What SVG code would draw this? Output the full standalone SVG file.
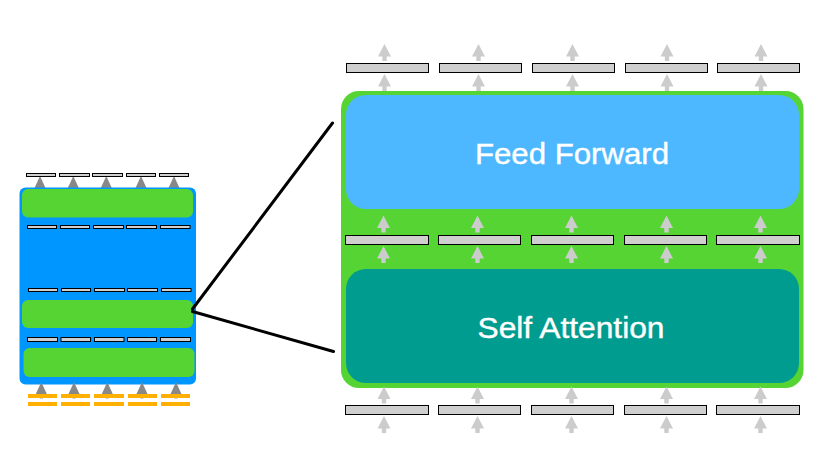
<svg xmlns="http://www.w3.org/2000/svg" xmlns:xlink="http://www.w3.org/1999/xlink" width="835" height="465" viewBox="0 0 835 465">
<defs>
<style>
.bar{fill:#cfcfcf;stroke:#000;stroke-width:1}
.sbar{fill:#cfcfcf;stroke:#000;stroke-width:1}
.ybar{fill:#ffb000}
.grn{fill:#55d433}
.lbl{font-family:"Helvetica Neue","Liberation Sans",Arial,sans-serif;font-size:30px;fill:#fff;stroke:#fff;stroke-width:0.4;text-anchor:middle}
.conn{stroke:#000;stroke-width:3;fill:none;stroke-linecap:round}
.arr{fill:#cccccc}
.darr{fill:#888888}
</style>
<path id="arrow" d="M0,0 L6.5,12.5 L2.2,12.5 L2.2,17 L-2.2,17 L-2.2,12.5 L-6.5,12.5 Z"/>
<path id="darrow" d="M0,0 L5.5,12 L-5.5,12 Z"/>
</defs>
<rect width="835" height="465" fill="#fff"/>

<g id="small-encoder">
  <g class="darr">
    <use xlink:href="#darrow" x="40" y="176"/>
    <use xlink:href="#darrow" x="73.3" y="176"/>
    <use xlink:href="#darrow" x="106.3" y="176"/>
    <use xlink:href="#darrow" x="141" y="176"/>
    <use xlink:href="#darrow" x="174" y="176"/>
  </g>
  <g>
    <rect class="sbar" x="26.5" y="173.5" width="29" height="3"/>
    <rect class="sbar" x="59.5" y="173.5" width="30" height="3"/>
    <rect class="sbar" x="92.5" y="173.5" width="30" height="3"/>
    <rect class="sbar" x="126.5" y="173.5" width="29" height="3"/>
    <rect class="sbar" x="159.5" y="173.5" width="29" height="3"/>
  </g>
  <rect x="19.5" y="187.5" width="176.5" height="197" rx="6" fill="#0096ff"/>
  <rect class="grn" x="22" y="189" width="171" height="28.5" rx="6"/>
  <rect class="grn" x="22" y="300" width="171" height="28" rx="6"/>
  <rect class="grn" x="23.5" y="348" width="171" height="29" rx="6"/>
  <g>
    <rect class="sbar" x="27.5" y="225.5" width="29" height="3"/>
    <rect class="sbar" x="60.5" y="225.5" width="29" height="3"/>
    <rect class="sbar" x="93.5" y="225.5" width="30" height="3"/>
    <rect class="sbar" x="126.5" y="225.5" width="30" height="3"/>
    <rect class="sbar" x="160.5" y="225.5" width="29.5" height="3"/>
    <rect class="sbar" x="28.5" y="288.5" width="29" height="3"/>
    <rect class="sbar" x="61.5" y="288.5" width="29" height="3"/>
    <rect class="sbar" x="94.5" y="288.5" width="30" height="3"/>
    <rect class="sbar" x="127.5" y="288.5" width="30" height="3"/>
    <rect class="sbar" x="161.5" y="288.5" width="29.5" height="3"/>
    <rect class="sbar" x="27.5" y="337.5" width="30" height="4"/>
    <rect class="sbar" x="61" y="337.5" width="29.5" height="4"/>
    <rect class="sbar" x="94.5" y="337.5" width="29.5" height="4"/>
    <rect class="sbar" x="127.5" y="337.5" width="29" height="4"/>
    <rect class="sbar" x="160.5" y="337.5" width="30" height="4"/>
  </g>
  <g class="arr">
    <rect x="39.8" y="390" width="3" height="9"/>
    <rect x="72.5" y="390" width="3" height="9"/>
    <rect x="105.8" y="390" width="3" height="9"/>
    <rect x="140.5" y="390" width="3" height="9"/>
    <rect x="174.5" y="390" width="3" height="9"/>
  </g>
  <g class="darr">
    <use xlink:href="#darrow" x="41.3" y="382"/>
    <use xlink:href="#darrow" x="74" y="382"/>
    <use xlink:href="#darrow" x="107.3" y="382"/>
    <use xlink:href="#darrow" x="142" y="382"/>
    <use xlink:href="#darrow" x="176" y="382"/>
  </g>
  <g>
    <rect class="ybar" x="28" y="394" width="29" height="4"/>
    <rect class="ybar" x="61" y="394" width="29" height="4"/>
    <rect class="ybar" x="94" y="394" width="30" height="4"/>
    <rect class="ybar" x="128" y="394" width="29" height="4"/>
    <rect class="ybar" x="161" y="394" width="29" height="4"/>
    <rect class="ybar" x="28" y="402" width="29" height="4"/>
    <rect class="ybar" x="61" y="402" width="29" height="4"/>
    <rect class="ybar" x="94" y="402" width="30" height="4"/>
    <rect class="ybar" x="128" y="402" width="29" height="4"/>
    <rect class="ybar" x="161" y="402" width="29" height="4"/>
  </g>
</g>

<g id="connectors">
  <line class="conn" x1="192.5" y1="309" x2="332.5" y2="123"/>
  <line class="conn" x1="192.5" y1="311.5" x2="333.5" y2="351.5"/>
</g>

<g id="arrows-top" class="arr">
  <use xlink:href="#arrow" x="384.5" y="44"/>
  <use xlink:href="#arrow" x="478.5" y="44"/>
  <use xlink:href="#arrow" x="572.5" y="44"/>
  <use xlink:href="#arrow" x="667" y="44"/>
  <use xlink:href="#arrow" x="761" y="44"/>
  <use xlink:href="#arrow" x="384.5" y="74"/>
  <use xlink:href="#arrow" x="478.5" y="74"/>
  <use xlink:href="#arrow" x="572.5" y="74"/>
  <use xlink:href="#arrow" x="667" y="74"/>
  <use xlink:href="#arrow" x="761" y="74"/>
</g>
<g id="output-vectors">
  <rect class="bar" x="346.5" y="63.5" width="82" height="9"/>
  <rect class="bar" x="439.5" y="63.5" width="82" height="9"/>
  <rect class="bar" x="532.5" y="63.5" width="82" height="9"/>
  <rect class="bar" x="625.5" y="63.5" width="82" height="9"/>
  <rect class="bar" x="717.5" y="63.5" width="82" height="9"/>
</g>

<g id="encoder">
  <rect class="grn" x="341" y="91" width="462.5" height="297" rx="18"/>
</g>

<g id="feed-forward">
  <rect x="346" y="95" width="453" height="114" rx="20" fill="#4db8ff"/>
  <text class="lbl" x="572" y="163.5" textLength="194" lengthAdjust="spacingAndGlyphs">Feed Forward</text>
</g>

<g id="arrows-mid" class="arr">
  <use xlink:href="#arrow" x="383.5" y="215.5"/>
  <use xlink:href="#arrow" x="477.5" y="215.5"/>
  <use xlink:href="#arrow" x="571.5" y="215.5"/>
  <use xlink:href="#arrow" x="666.5" y="215.5"/>
  <use xlink:href="#arrow" x="760.5" y="215.5"/>
  <use xlink:href="#arrow" x="383.5" y="246"/>
  <use xlink:href="#arrow" x="477.5" y="246"/>
  <use xlink:href="#arrow" x="571.5" y="246"/>
  <use xlink:href="#arrow" x="666.5" y="246"/>
  <use xlink:href="#arrow" x="760.5" y="246"/>
</g>
<g id="mid-vectors">
  <rect class="bar" x="345.5" y="235.5" width="83" height="9"/>
  <rect class="bar" x="438.5" y="235.5" width="82" height="9"/>
  <rect class="bar" x="531.5" y="235.5" width="82" height="9"/>
  <rect class="bar" x="624.5" y="235.5" width="82" height="9"/>
  <rect class="bar" x="716.5" y="235.5" width="83" height="9"/>
</g>

<g id="self-attention">
  <rect x="346" y="269" width="453" height="114" rx="20" fill="#009c8f"/>
  <text class="lbl" x="571" y="338" textLength="187" lengthAdjust="spacingAndGlyphs">Self Attention</text>
</g>

<g id="arrows-bottom" class="arr">
  <use xlink:href="#arrow" x="384" y="386.5"/>
  <use xlink:href="#arrow" x="477.5" y="386.5"/>
  <use xlink:href="#arrow" x="571.5" y="386.5"/>
  <use xlink:href="#arrow" x="666.5" y="386.5"/>
  <use xlink:href="#arrow" x="760.5" y="386.5"/>
  <use xlink:href="#arrow" x="384" y="416"/>
  <use xlink:href="#arrow" x="477.5" y="416"/>
  <use xlink:href="#arrow" x="571.5" y="416"/>
  <use xlink:href="#arrow" x="666.5" y="416"/>
  <use xlink:href="#arrow" x="760.5" y="416"/>
</g>
<g id="input-vectors">
  <rect class="bar" x="345.5" y="405.5" width="83" height="9"/>
  <rect class="bar" x="438.5" y="405.5" width="82" height="9"/>
  <rect class="bar" x="531.5" y="405.5" width="82" height="9"/>
  <rect class="bar" x="624.5" y="405.5" width="82" height="9"/>
  <rect class="bar" x="716.5" y="405.5" width="83" height="9"/>
</g>
</svg>
